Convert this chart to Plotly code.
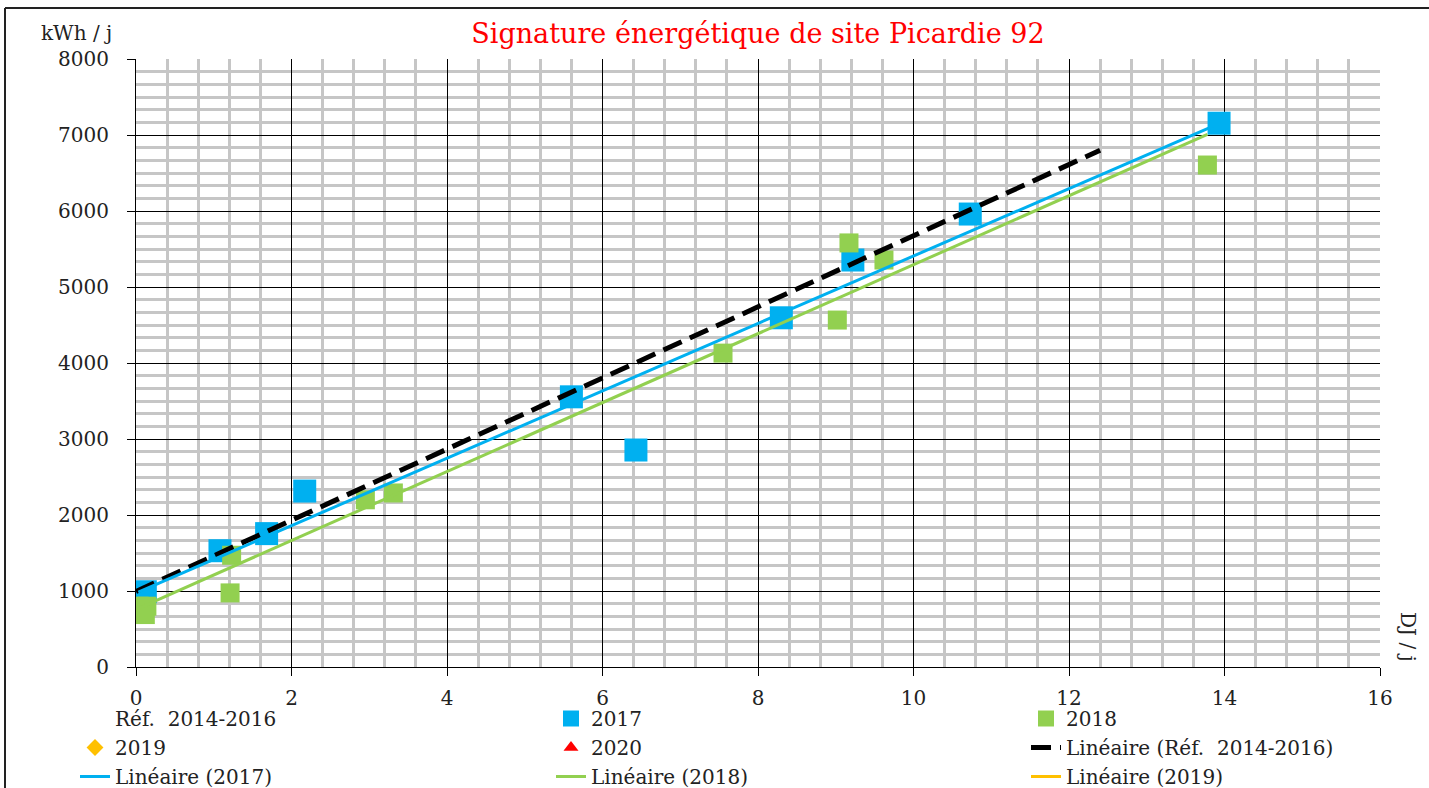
import numpy as np
import plotly.graph_objects as go

# ---- data ----
dj_2017 = [0.03, 0.12, 1.08, 1.68, 2.17, 5.6, 6.43, 8.3, 9.22, 10.73, 13.93]
kwh_2017 = [930, 990, 1530, 1755, 2315, 3555, 2855, 4595, 5355, 5960, 7155]
dj_2018 = [0.04, 0.14, 0.12, 1.21, 1.23, 2.95, 3.31, 7.55, 9.02, 9.17, 9.62, 13.78]
kwh_2018 = [800, 800, 690, 975, 1470, 2200, 2290, 4130, 4565, 5580, 5355, 6605]
# Reference period trend (2014-2016): intercept, slope, DJ range
ref_intercept = 995
ref_slope = 468
ref_dj_range = [0.0, 12.4]

title_text = "Signature énergétique de site Picardie 92"
legend_names = ["Réf.  2014-2016", "2017", "2018", "2019", "2020",
                "Linéaire (Réf.  2014-2016)", "Linéaire (2017)",
                "Linéaire (2018)", "Linéaire (2019)"]

BLUE = "#00b0f0"
GREEN = "#92d050"
GOLD = "#ffc000"
RED = "#ff0000"
FONT = "DejaVu Serif"
TXT = "#222222"

# legend column for each entry (row-major 3-column layout as in the reference)
cols = ["legend", "legend2", "legend3", "legend", "legend2", "legend3",
        "legend", "legend2", "legend3"]

fig = go.Figure()

fig.add_trace(go.Scatter(x=[None], y=[None], mode="markers", name=legend_names[0],
                         legend=cols[0], legendrank=1,
                         marker=dict(size=1, color="rgba(0,0,0,0)")))
fig.add_trace(go.Scatter(x=dj_2017, y=kwh_2017, mode="markers", name=legend_names[1],
                         legend=cols[1], legendrank=1,
                         marker=dict(symbol="square", size=23, color=BLUE)))
fig.add_trace(go.Scatter(x=dj_2018, y=kwh_2018, mode="markers", name=legend_names[2],
                         legend=cols[2], legendrank=1,
                         marker=dict(symbol="square", size=19, color=GREEN)))
fig.add_trace(go.Scatter(x=[None], y=[None], mode="markers", name=legend_names[3],
                         legend=cols[3], legendrank=2,
                         marker=dict(symbol="diamond", size=13, color=GOLD)))
fig.add_trace(go.Scatter(x=[None], y=[None], mode="markers", name=legend_names[4],
                         legend=cols[4], legendrank=2,
                         marker=dict(symbol="triangle-up", size=13, color=RED)))

rx = np.array(ref_dj_range)
fig.add_trace(go.Scatter(x=rx, y=ref_intercept + ref_slope * rx, mode="lines",
                         name=legend_names[5], legend=cols[5], legendrank=2,
                         line=dict(color="black", width=5, dash="20px,9px")))
s17, i17 = np.polyfit(dj_2017, kwh_2017, 1)
x17 = np.array([min(dj_2017), max(dj_2017)])
fig.add_trace(go.Scatter(x=x17, y=i17 + s17 * x17, mode="lines", name=legend_names[6],
                         legend=cols[6], legendrank=3,
                         line=dict(color=BLUE, width=3)))
s18, i18 = np.polyfit(dj_2018, kwh_2018, 1)
x18 = np.array([min(dj_2018), max(dj_2018)])
fig.add_trace(go.Scatter(x=x18, y=i18 + s18 * x18, mode="lines", name=legend_names[7],
                         legend=cols[7], legendrank=3,
                         line=dict(color=GREEN, width=3)))
fig.add_trace(go.Scatter(x=[None], y=[None], mode="lines", name=legend_names[8],
                         legend=cols[8], legendrank=3,
                         line=dict(color=GOLD, width=3)))

L, R, T, B = 136, 49, 59, 121
W, H = 1429, 788
pw, ph = W - L - R, H - T - B


def px(x):
    return (x - L) / pw


def py(y):
    return (H - B - y) / ph


def leg(xpix):
    return dict(orientation="v", xref="container", yref="container",
                x=xpix / W, y=1 - 699 / H, xanchor="left", yanchor="top",
                font=dict(family=FONT, size=20, color=TXT), tracegroupgap=0,
                itemwidth=30, bgcolor="rgba(0,0,0,0)", traceorder="normal")


fig.update_layout(
    width=W, height=H,
    margin=dict(l=L, r=R, t=T, b=B, autoexpand=False),
    paper_bgcolor="white", plot_bgcolor="white",
    font=dict(family=FONT, size=20, color=TXT),
    title=dict(text=title_text, font=dict(family=FONT, size=27, color=RED),
               x=0.5, xref="paper", xanchor="center", y=1 - 34 / H, yref="container",
               yanchor="middle"),
    showlegend=True,
    legend=leg(75), legend2=leg(551), legend3=leg(1026),
    xaxis=dict(range=[0, 16], dtick=2, tick0=0, showgrid=True, gridcolor="black",
               gridwidth=1, zeroline=False, showline=True, linecolor="black",
               linewidth=1, ticks="outside", ticklen=8, tickcolor="black",
               ticklabelstandoff=5, automargin=False,
               minor=dict(dtick=0.4, tick0=0, showgrid=True, gridcolor="#c6c6c6",
                          gridwidth=2.5, ticks="")),
    yaxis=dict(range=[0, 8000], dtick=1000, tick0=0, showgrid=True, gridcolor="black",
               gridwidth=1, zeroline=False, showline=True, linecolor="black",
               linewidth=1, ticks="outside", ticklen=8, tickcolor="black",
               ticklabelstandoff=14, automargin=False,
               minor=dict(dtick=1000 / 6, tick0=0, showgrid=True, gridcolor="#c6c6c6",
                          gridwidth=2.5, ticks="")),
    annotations=[
        dict(text="kWh / j", xref="paper", yref="paper", x=px(76), y=py(33),
             showarrow=False, xanchor="center", yanchor="middle",
             font=dict(family=FONT, size=20, color=TXT)),
        dict(text="DJ / j", xref="paper", yref="paper", x=px(1408), y=py(637),
             showarrow=False, xanchor="center", yanchor="middle", textangle=90,
             font=dict(family=FONT, size=20, color=TXT)),
    ],
    shapes=[
        dict(type="line", xref="paper", yref="paper", x0=px(5), x1=px(1440),
             y0=py(8), y1=py(8), line=dict(color=TXT, width=2)),
        dict(type="line", xref="paper", yref="paper", x0=px(5), x1=px(5),
             y0=py(8), y1=py(800), line=dict(color=TXT, width=2)),
    ],
)

fig.write_html("out.html",
               config=dict(displayModeBar=False),
               post_script="document.body.style.margin='0px';"
                           "document.body.style.padding='0px';"
                           "document.body.style.overflow='hidden';")
